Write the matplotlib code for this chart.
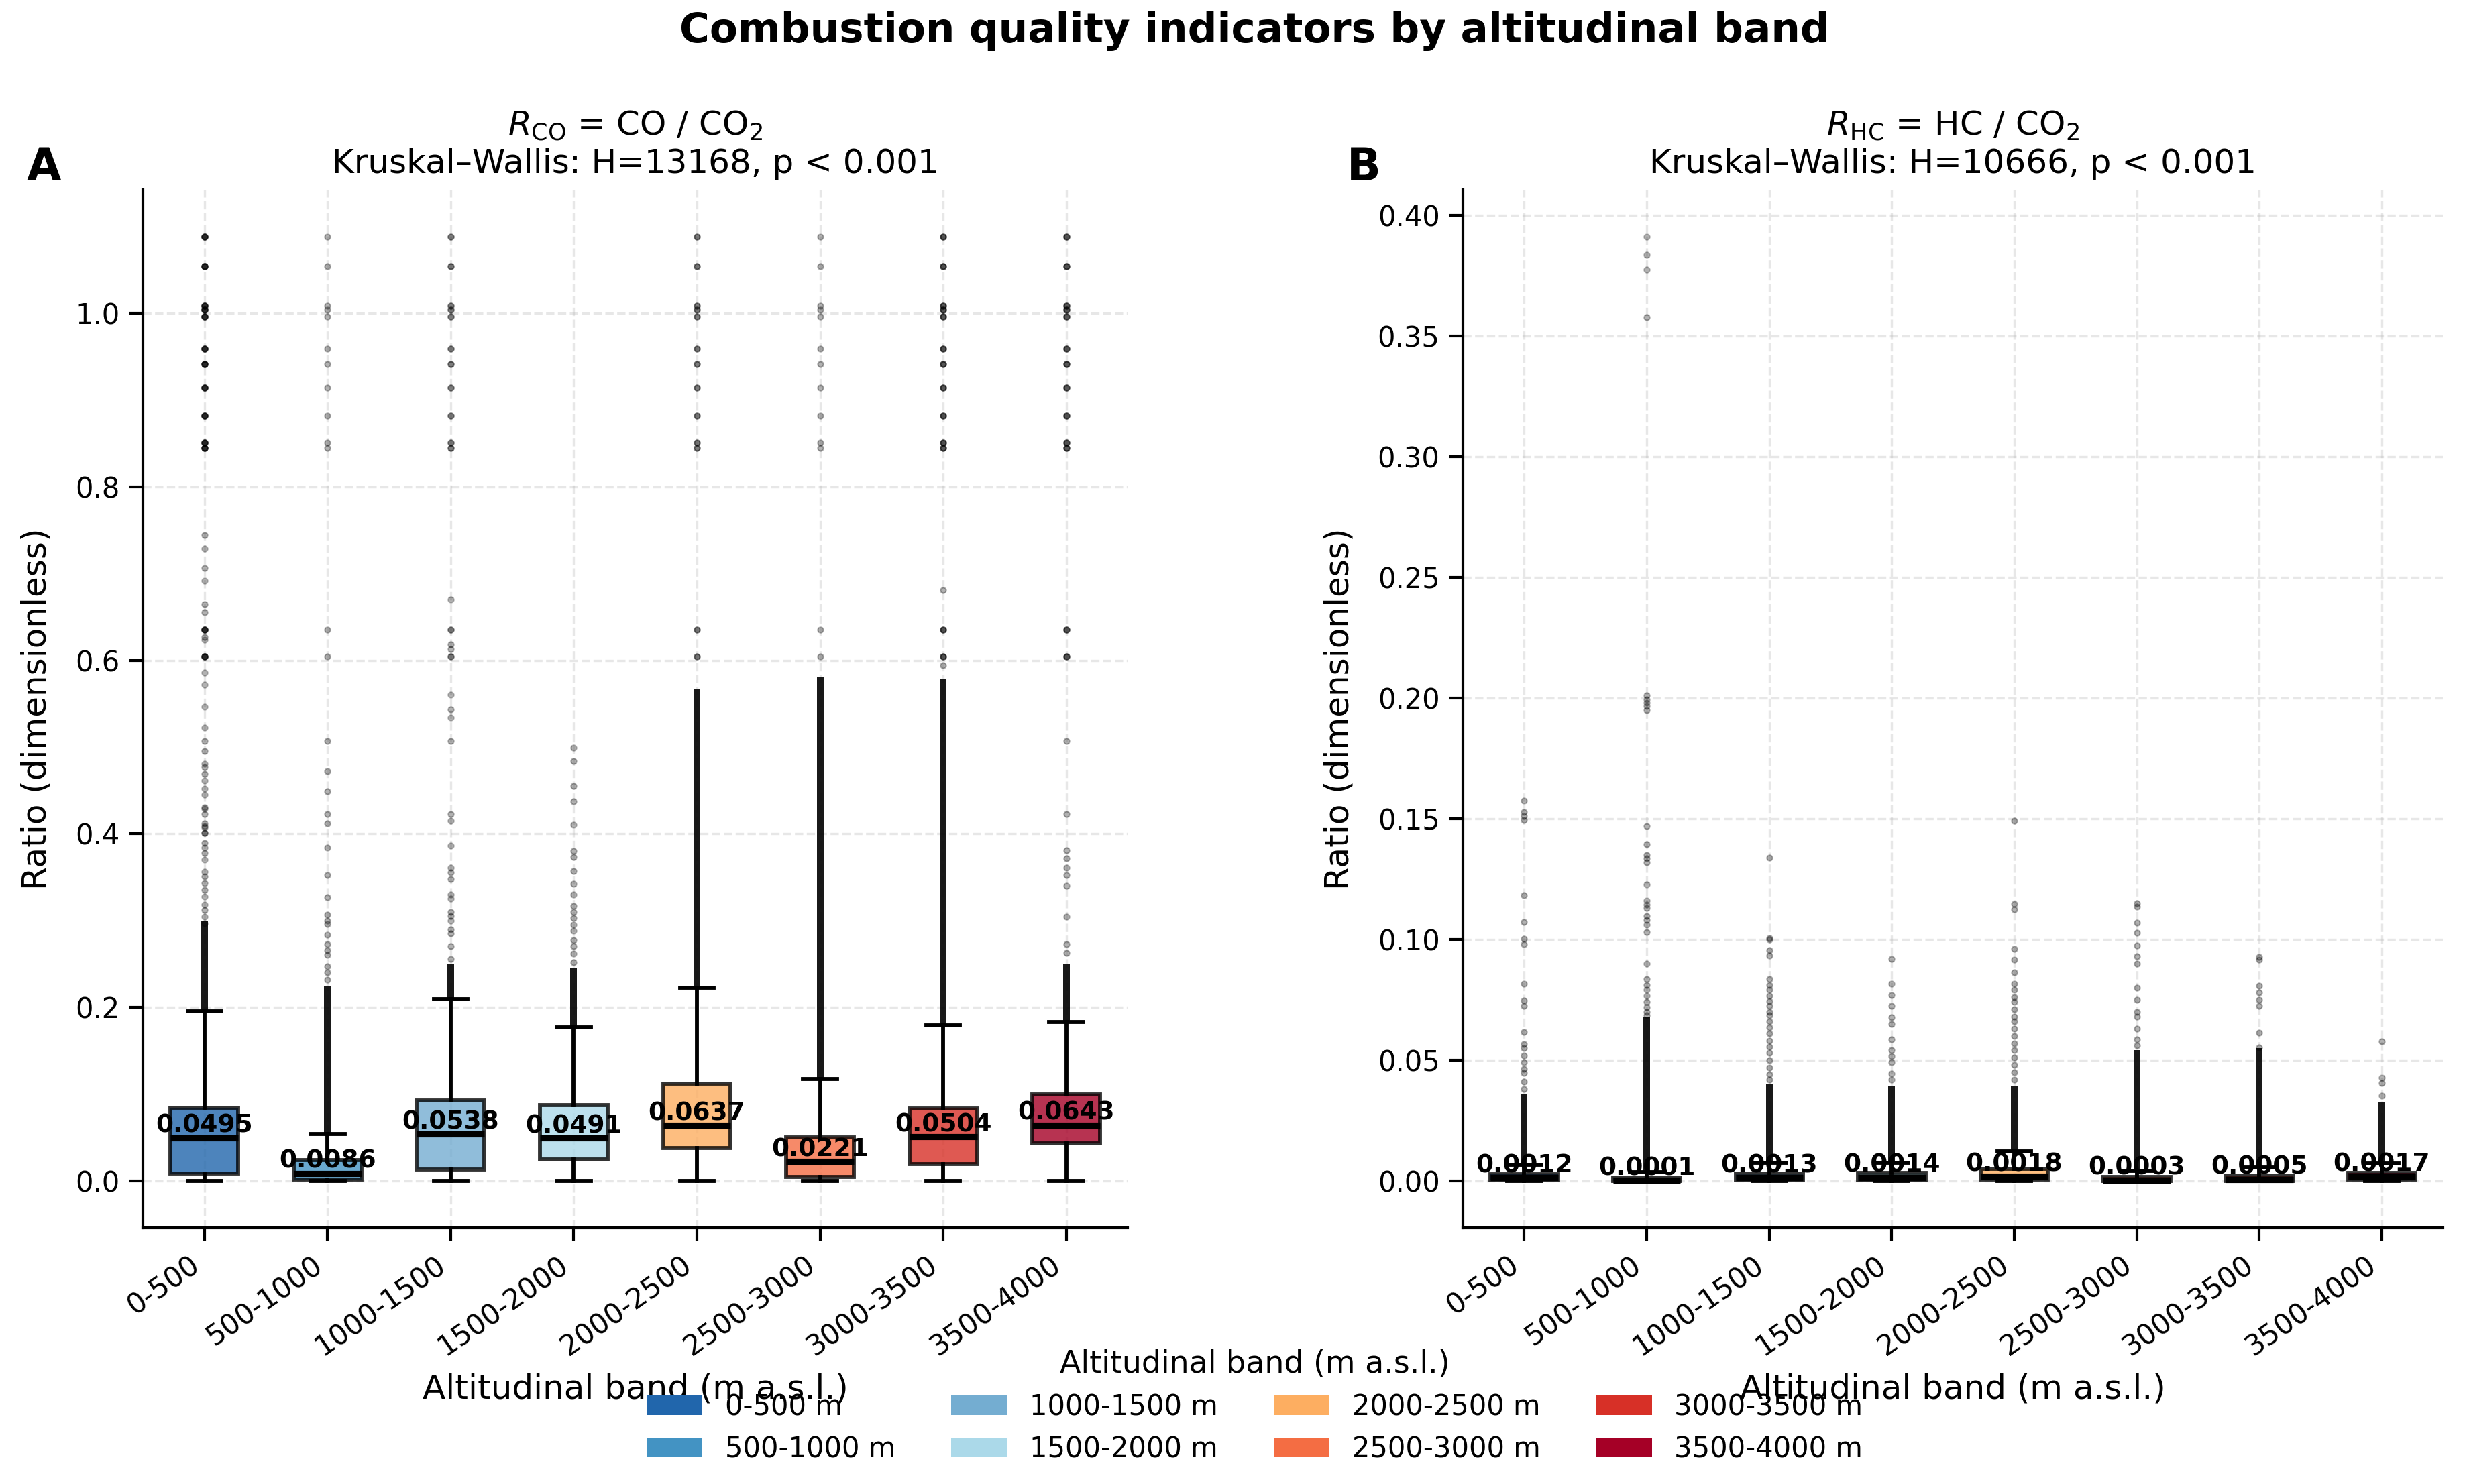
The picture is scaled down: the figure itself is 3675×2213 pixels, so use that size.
import numpy as np
import matplotlib.pyplot as plt
from matplotlib.patches import Patch

bands = ["0-500", "500-1000", "1000-1500", "1500-2000",
         "2000-2500", "2500-3000", "3000-3500", "3500-4000"]
colors = ["#2166ac", "#4393c3", "#74add1", "#abd9e9",
          "#fdae61", "#f46d43", "#d73027", "#a50026"]

# R_CO = CO / CO2 box statistics
co_q1 = [0.0086, 0.0013, 0.0129, 0.0243, 0.0377, 0.0042, 0.0189, 0.0429]
co_med = [0.0495, 0.0086, 0.0538, 0.0491, 0.0637, 0.0221, 0.0504, 0.0643]
co_q3 = [0.0842, 0.0240, 0.0924, 0.0872, 0.1118, 0.0498, 0.0829, 0.0996]
co_whishi = [0.1957, 0.0537, 0.2094, 0.1770, 0.2227, 0.1170, 0.1790, 0.1833]
# outliers shared by most bands (high-end cluster) and how often they repeat
co_top = [1.088, 1.054, 1.0085, 1.004, 0.996, 0.9595, 0.9415, 0.914,
          0.8816, 0.851, 0.845, 0.635, 0.604]
co_top_count = [5, 1, 2, 0, 2, 1, 3, 3]
co_extra = [
    [0.7445, 0.729, 0.706, 0.692, 0.665, 0.655, 0.627, 0.624, 0.586, 0.572,
     0.5466, 0.522, 0.507, 0.495, 0.481, 0.477, 0.469, 0.4615, 0.452, 0.4447,
     0.429, 0.4228, 0.412, 0.4085, 0.4008, 0.4305, 0.4073, 0.401, 0.3894,
     0.3842, 0.3778, 0.37, 0.3558, 0.3507, 0.343, 0.3352, 0.3275, 0.3185,
     0.312, 0.3043, 0.2965],
    [0.507, 0.4718, 0.449, 0.4228, 0.412, 0.384, 0.352, 0.327, 0.307, 0.300,
     0.296, 0.2836, 0.273, 0.266, 0.260, 0.247, 0.240, 0.232],
    [0.670, 0.618, 0.613, 0.560, 0.5435, 0.534, 0.507, 0.4228, 0.415, 0.3866,
     0.361, 0.355, 0.348, 0.330, 0.325, 0.310, 0.305, 0.300, 0.290, 0.285,
     0.270, 0.256],
    [0.4989, 0.4834, 0.4555, 0.437, 0.410, 0.380, 0.373, 0.357, 0.342, 0.330,
     0.317, 0.310, 0.303, 0.295, 0.288, 0.277, 0.270, 0.262, 0.252],
    [],
    [],
    [0.681, 0.594],
    [0.507, 0.4228, 0.381, 0.372, 0.361, 0.352, 0.340, 0.304, 0.273, 0.2627],
]
# upper end of the solid streak of outliers above each whisker
co_dense_hi = [0.300, 0.224, 0.250, 0.245, 0.567, 0.581, 0.579, 0.250]

# R_HC = HC / CO2 box statistics
hc_q1 = [0.0002, 0.0000, 0.0002, 0.0003, 0.0004, 0.0000, 0.0000, 0.0006]
hc_med = [0.0012, 0.0001, 0.0013, 0.0014, 0.0018, 0.0003, 0.0005, 0.0017]
hc_q3 = [0.0028, 0.0014, 0.0031, 0.0032, 0.0050, 0.0016, 0.0022, 0.0032]
hc_whishi = [0.0066, 0.0035, 0.0074, 0.0075, 0.0120, 0.0040, 0.0055, 0.0070]
hc_extra = [
    [0.1574, 0.1527, 0.151, 0.1495, 0.1184, 0.1072, 0.1003, 0.098, 0.0817,
     0.0747, 0.0724, 0.0617, 0.0566, 0.0548, 0.052, 0.049, 0.0464, 0.0446,
     0.0409, 0.038],
    [0.391, 0.3835, 0.3774, 0.3577, 0.201, 0.1995, 0.198, 0.1965, 0.195,
     0.147, 0.1395, 0.135, 0.1335, 0.132, 0.1226, 0.116, 0.1145, 0.113,
     0.1096, 0.108, 0.106, 0.103, 0.090, 0.0836, 0.081, 0.079, 0.0765, 0.074,
     0.072, 0.070, 0.0685],
    [0.1337, 0.1005, 0.100, 0.0956, 0.0933, 0.0836, 0.081, 0.079, 0.0765,
     0.0745, 0.0724, 0.070, 0.0685, 0.066, 0.0635, 0.061, 0.058, 0.0555,
     0.053, 0.050, 0.047, 0.044, 0.042],
    [0.0919, 0.0817, 0.077, 0.0724, 0.0678, 0.065, 0.0585, 0.054, 0.0515,
     0.049, 0.0445, 0.042],
    [0.149, 0.1147, 0.1123, 0.0961, 0.0915, 0.0863, 0.0817, 0.079, 0.076,
     0.074, 0.071, 0.068, 0.066, 0.063, 0.060, 0.057, 0.054, 0.051, 0.048,
     0.045, 0.042],
    [0.115, 0.1135, 0.107, 0.1026, 0.0975, 0.093, 0.090, 0.080, 0.075, 0.070,
     0.068, 0.063, 0.0585, 0.056],
    [0.0928, 0.0915, 0.0808, 0.078, 0.075, 0.0724, 0.0613, 0.0552],
    [0.0576, 0.0427, 0.0404, 0.0353],
]
hc_dense_hi = [0.036, 0.068, 0.040, 0.039, 0.039, 0.054, 0.055, 0.0325]

co_fliers = [co_top * n + extra for n, extra in zip(co_top_count, co_extra)]


def draw_panel(ax, q1, med, q3, whishi, fliers, dense_hi, title):
    pos = np.arange(1, len(bands) + 1)
    stats = []
    for i in range(len(bands)):
        stats.append(dict(med=med[i], q1=q1[i], q3=q3[i], whislo=0.0,
                          whishi=whishi[i], fliers=np.array(fliers[i])))
    bp = ax.bxp(stats, positions=pos, widths=0.55, patch_artist=True,
                showfliers=True,
                boxprops=dict(linewidth=1.4),
                whiskerprops=dict(linewidth=1.4),
                capprops=dict(linewidth=1.4),
                medianprops=dict(color="black", linewidth=2.2),
                flierprops=dict(marker="o", markersize=2, markeredgewidth=0.5,
                                markerfacecolor="black",
                                markeredgecolor="black", alpha=0.3))
    for patch, c in zip(bp["boxes"], colors):
        patch.set_facecolor(c)
        patch.set_edgecolor("black")
        patch.set_alpha(0.8)
    # dense runs of overlapping outliers drawn as solid streaks
    ax.vlines(pos, whishi, dense_hi, color="black", alpha=0.9,
              linewidth=2.4, zorder=2.5)
    for p, m in zip(pos, med):
        ax.text(p, m, f"{m:.4f}", ha="center", va="bottom", fontsize=9,
                fontweight="bold", zorder=5)
    ax.set_xticks(pos)
    ax.set_xticklabels(bands, rotation=35, ha="right", fontsize=10)
    ax.set_xlim(0.5, len(bands) + 0.5)
    ax.set_xlabel("Altitudinal band (m a.s.l.)", fontsize=12)
    ax.set_ylabel("Ratio (dimensionless)", fontsize=12, labelpad=8)
    ax.set_title(title, fontsize=12)
    ax.grid(True, linestyle="--", alpha=0.3)
    ax.set_axisbelow(True)
    ax.spines["top"].set_visible(False)
    ax.spines["right"].set_visible(False)
    for s in ["left", "bottom"]:
        ax.spines[s].set_linewidth(1.0)
    ax.tick_params(length=4.8, width=1.0, labelsize=10)


fig = plt.figure(figsize=(12.25, 7.3767), dpi=300)
ax1 = fig.add_axes([0.0580, 0.1726, 0.3995, 0.6995])
ax2 = fig.add_axes([0.5935, 0.1726, 0.3976, 0.6995])

draw_panel(ax1, co_q1, co_med, co_q3, co_whishi, co_fliers, co_dense_hi,
           r"$R_{\mathrm{CO}}$ = CO / CO$_2$" + "\nKruskal\u2013Wallis: H=13168, p < 0.001")
draw_panel(ax2, hc_q1, hc_med, hc_q3, hc_whishi, hc_extra, hc_dense_hi,
           r"$R_{\mathrm{HC}}$ = HC / CO$_2$" + "\nKruskal\u2013Wallis: H=10666, p < 0.001")

fig.text(0.0177, 0.887, "A", fontsize=16, fontweight="bold", ha="center", va="center")
fig.text(0.5532, 0.887, "B", fontsize=16, fontweight="bold", ha="center", va="center")

fig.suptitle("Combustion quality indicators by altitudinal band",
             fontsize=14.7, fontweight="bold", x=0.509, y=0.979, va="center")

handles = [Patch(facecolor=c, label=f"{b} m") for b, c in zip(bands, colors)]
fig.legend(handles=handles, loc="upper center", bbox_to_anchor=(0.509, 0.108),
           ncol=4, frameon=False, fontsize=10,
           title="Altitudinal band (m a.s.l.)", title_fontsize=11)

fig.savefig("out.png", dpi=300)
